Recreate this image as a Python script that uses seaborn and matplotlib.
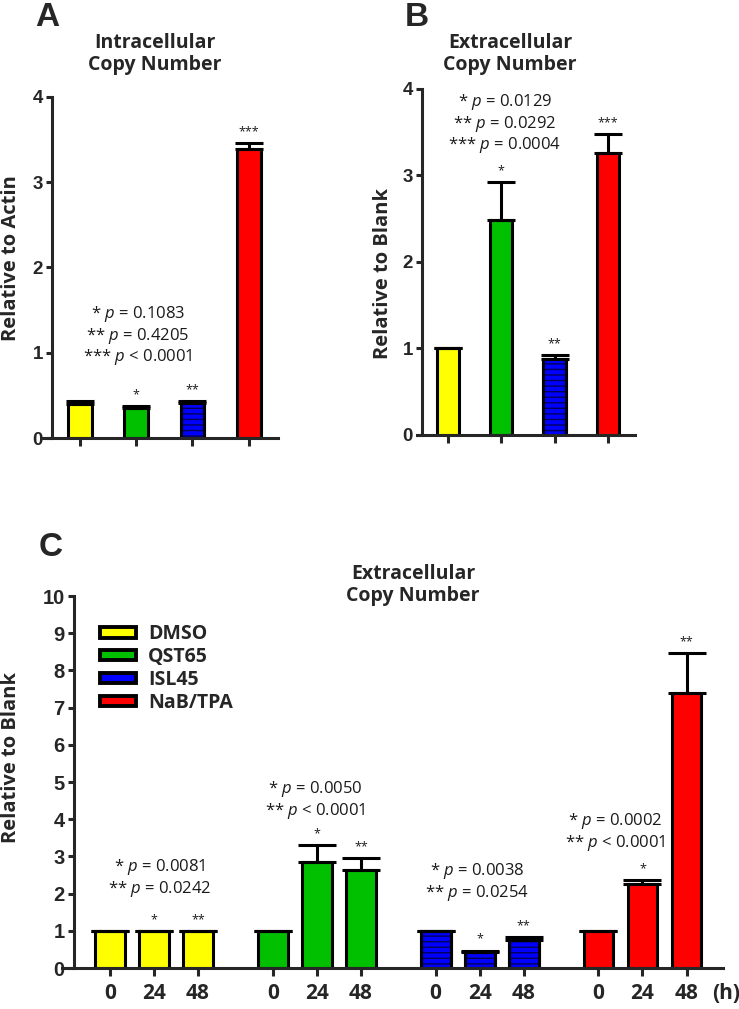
import numpy as np
import pandas as pd
import matplotlib
matplotlib.use("Agg")
import matplotlib.pyplot as plt
import seaborn as sns
from matplotlib.patches import Patch

# ---------------------------------------
# Data
# ---------------------------------------

treatments = ["DMSO", "QST65", "ISL45", "NaB/TPA"]
colors = ["#ffff00", "#00c000", "#0000ff", "#ff0000"]

# A: intracellular copy number (relative to actin)
intra_mean = [0.40, 0.35, 0.41, 3.39]
intra_err = [0.03, 0.02, 0.02, 0.07]
intra_stars = ["", "*", "**", "***"]
intra_pvals = ["* $p$ = 0.1083", "** $p$ = 0.4205", "*** $p$ < 0.0001"]

# B: extracellular copy number (relative to blank)
extra_mean = [1.00, 2.49, 0.88, 3.26]
extra_err = [0.00, 0.43, 0.04, 0.22]
extra_stars = ["", "*", "**", "***"]
extra_pvals = ["* $p$ = 0.0129", "** $p$ = 0.0292", "*** $p$ = 0.0004"]

# C: extracellular copy number over time
hours = ["0", "24", "48"]
dmso_mean = [1.00, 1.00, 1.00]
dmso_err = [0.00, 0.00, 0.00]
qst_mean = [1.00, 2.85, 2.63]
qst_err = [0.00, 0.45, 0.33]
isl_mean = [1.00, 0.43, 0.75]
isl_err = [0.00, 0.04, 0.08]
nab_mean = [1.00, 2.26, 7.39]
nab_err = [0.00, 0.10, 1.07]
time_stars = ["", "*", "**"]
dmso_pvals = ["* $p$ = 0.0081", "** $p$ = 0.0242"]
qst_pvals = ["* $p$ = 0.0050", "** $p$ < 0.0001"]
isl_pvals = ["* $p$ = 0.0038", "** $p$ = 0.0254"]
nab_pvals = ["* $p$ = 0.0002", "** $p$ < 0.0001"]

# ---------------------------------------
# Style
# ---------------------------------------

sns.set_style("ticks")
plt.rcParams["font.family"] = ["Open Sans", "DejaVu Sans"]
plt.rcParams["mathtext.fontset"] = "custom"
plt.rcParams["mathtext.it"] = "Open Sans:italic"
plt.rcParams["mathtext.rm"] = "Open Sans"
plt.rcParams["hatch.linewidth"] = 1.0

LW = 2.2
TXT = "#1a1a1a"


def style_axis(ax, xlim, spine_x, ymax, ytick_size):
    ax.set_xlim(*xlim)
    ax.set_ylim(0, ymax)
    sns.despine(ax=ax)
    ax.spines["left"].set_position(("data", spine_x))
    for s in ("left", "bottom"):
        ax.spines[s].set_linewidth(LW)
    ax.set_yticks(range(0, ymax + 1))
    ax.set_yticklabels([str(v) for v in range(0, ymax + 1)], fontsize=ytick_size,
                       fontweight="bold", family="Liberation Sans")
    ax.tick_params(axis="y", width=LW, length=4.5, pad=2)
    ax.tick_params(axis="x", width=LW, length=5.5)
    ax.set_xlabel("")


def hatch_bars(ax, bars):
    # ISL45 bars: blue with dark horizontal stripes
    for p in bars:
        ax.bar(p.get_x() + p.get_width() / 2, p.get_height(), width=p.get_width(),
               facecolor="none", edgecolor="#00005a", linewidth=0, hatch="---", zorder=2)
        ax.bar(p.get_x() + p.get_width() / 2, p.get_height(), width=p.get_width(),
               facecolor="none", edgecolor="black", linewidth=LW, zorder=2.1)


def add_errors(ax, xs, means, errs, cap):
    ax.errorbar(xs, means, yerr=[np.zeros(len(errs)), errs], fmt="none",
                ecolor="black", elinewidth=LW, capsize=cap, capthick=LW, zorder=1.5)


def add_stars(ax, xs, means, errs, stars):
    for x, m, e, s in zip(xs, means, errs, stars):
        if s:
            ax.annotate(s, xy=(x, m + e), xytext=(0, 3.5), textcoords="offset points",
                        ha="center", va="bottom", fontsize=9, color=TXT)


fig = plt.figure(figsize=(7.39, 10.09), dpi=100)

# ---------------------------------------
# A and B
# ---------------------------------------

panels = [
    dict(rect=[0.0568, 0.5659, 0.3194, 0.338], mean=intra_mean, err=intra_err,
         stars=intra_stars, pvals=intra_pvals, xlim=(-0.675, 3.52), spine=-0.5,
         title="Intracellular\nCopy Number", title_xy=(0.479, 1.126),
         ylabel="Relative to Actin", ylab_xy=(-0.088, 0.528), p_xy=(1.03, 1.2),
         letter="A", letter_xy=(0.064, 0.983)),
    dict(rect=[0.5643, 0.5689, 0.295, 0.343], mean=extra_mean, err=extra_err,
         stars=extra_stars, pvals=extra_pvals, xlim=(-0.58, 3.51), spine=-0.49,
         title="Extracellular\nCopy Number", title_xy=(0.427, 1.101),
         ylabel="Relative to Blank", ylab_xy=(-0.108, 0.468), p_xy=(1.07, 3.6),
         letter="B", letter_xy=(0.564, 0.983)),
]

for pn in panels:
    ax = fig.add_axes(pn["rect"])
    df = pd.DataFrame({"treatment": treatments, "value": pn["mean"]})
    sns.barplot(data=df, x="treatment", y="value", hue="treatment", palette=colors,
                order=treatments, hue_order=treatments, legend=False, width=0.42,
                saturation=1, edgecolor="black", linewidth=LW, errorbar=None, ax=ax)
    bars = sorted(ax.patches, key=lambda p: p.get_x())
    xs = [p.get_x() + p.get_width() / 2 for p in bars]
    hatch_bars(ax, [bars[2]])
    add_errors(ax, xs, pn["mean"], pn["err"], cap=10)
    add_stars(ax, xs, pn["mean"], pn["err"], pn["stars"])
    style_axis(ax, pn["xlim"], pn["spine"], 4, 13.5)
    ax.set_xticks(xs)
    ax.set_xticklabels([""] * len(xs))
    ax.set_ylabel(pn["ylabel"], fontsize=14.5, fontweight="bold")
    ax.yaxis.set_label_coords(*pn["ylab_xy"])
    ax.text(*pn["title_xy"], pn["title"], transform=ax.transAxes, ha="center",
            va="center", fontsize=14, fontweight="bold", linespacing=1.15)
    ax.text(*pn["p_xy"], "\n".join(pn["pvals"]), ha="center", va="center",
            fontsize=12, color=TXT, linespacing=1.1)
    fig.text(*pn["letter_xy"], pn["letter"], ha="center", va="center",
             fontsize=24, fontweight="bold", family="Liberation Sans")

# ---------------------------------------
# C
# ---------------------------------------

group_means = [dmso_mean, qst_mean, isl_mean, nab_mean]
group_errs = [dmso_err, qst_err, isl_err, nab_err]
group_pvals = [dmso_pvals, qst_pvals, isl_pvals, nab_pvals]
group_step = len(hours) + 0.7

rows = []
for g, name in enumerate(treatments):
    for t, h in enumerate(hours):
        rows.append({"pos": g * group_step + t, "treatment": name, "hour": h,
                     "value": group_means[g][t], "err": group_errs[g][t],
                     "star": time_stars[t]})
dfc = pd.DataFrame(rows)

axc = fig.add_axes([0.0839, 0.0406, 0.8945, 0.3687])
sns.barplot(data=dfc, x="pos", y="value", hue="treatment", palette=colors,
            hue_order=treatments, native_scale=True, dodge=False, legend=False,
            width=0.68, saturation=1, edgecolor="black", linewidth=LW,
            errorbar=None, ax=axc)
bars_c = sorted([p for p in axc.patches if p.get_height() > 0], key=lambda p: p.get_x())
xs_c = [p.get_x() + p.get_width() / 2 for p in bars_c]
hatch_bars(axc, bars_c[6:9])
add_errors(axc, xs_c, dfc["value"], dfc["err"], cap=14)
add_stars(axc, xs_c, dfc["value"], dfc["err"], dfc["star"])
style_axis(axc, (-1.09, 13.93), -0.82, 10, 14.5)
axc.set_xticks(xs_c)
axc.set_xticklabels(dfc["hour"], fontsize=15, fontweight="bold")
axc.tick_params(axis="x", pad=5)
axc.annotate("(h)", xy=(1.0, 0), xycoords="axes fraction", xytext=(2, -10.5),
             textcoords="offset points", ha="center", va="top", fontsize=15,
             fontweight="bold")
axc.set_ylabel("Relative to Blank", fontsize=14.5, fontweight="bold")
axc.yaxis.set_label_coords(-0.062, 0.565)
axc.text(0.531, 1.03, "Extracellular\nCopy Number", transform=axc.transAxes,
         ha="center", va="center", fontsize=14, fontweight="bold", linespacing=1.15)

p_spots = [(1.14, 2.42), (4.66, 4.52), (8.34, 2.31), (11.48, 3.66)]
for (px, py), pv in zip(p_spots, group_pvals):
    axc.text(px, py, "\n".join(pv), ha="center", va="center", fontsize=12,
             color=TXT, linespacing=1.1)

handles = [Patch(facecolor=c, edgecolor="black", linewidth=2.8) for c in colors]
axc.legend(handles, treatments, loc="upper left", bbox_to_anchor=(0.045, 0.945),
           frameon=False, prop=dict(family="Open Sans", weight="bold", size=14),
           handlelength=1.9, handleheight=0.45, labelspacing=0.15,
           handletextpad=0.6, borderaxespad=0)

fig.text(0.068, 0.457, "C", ha="center", va="center", fontsize=24,
         fontweight="bold", family="Liberation Sans")

fig.savefig("out.png", dpi=100)
